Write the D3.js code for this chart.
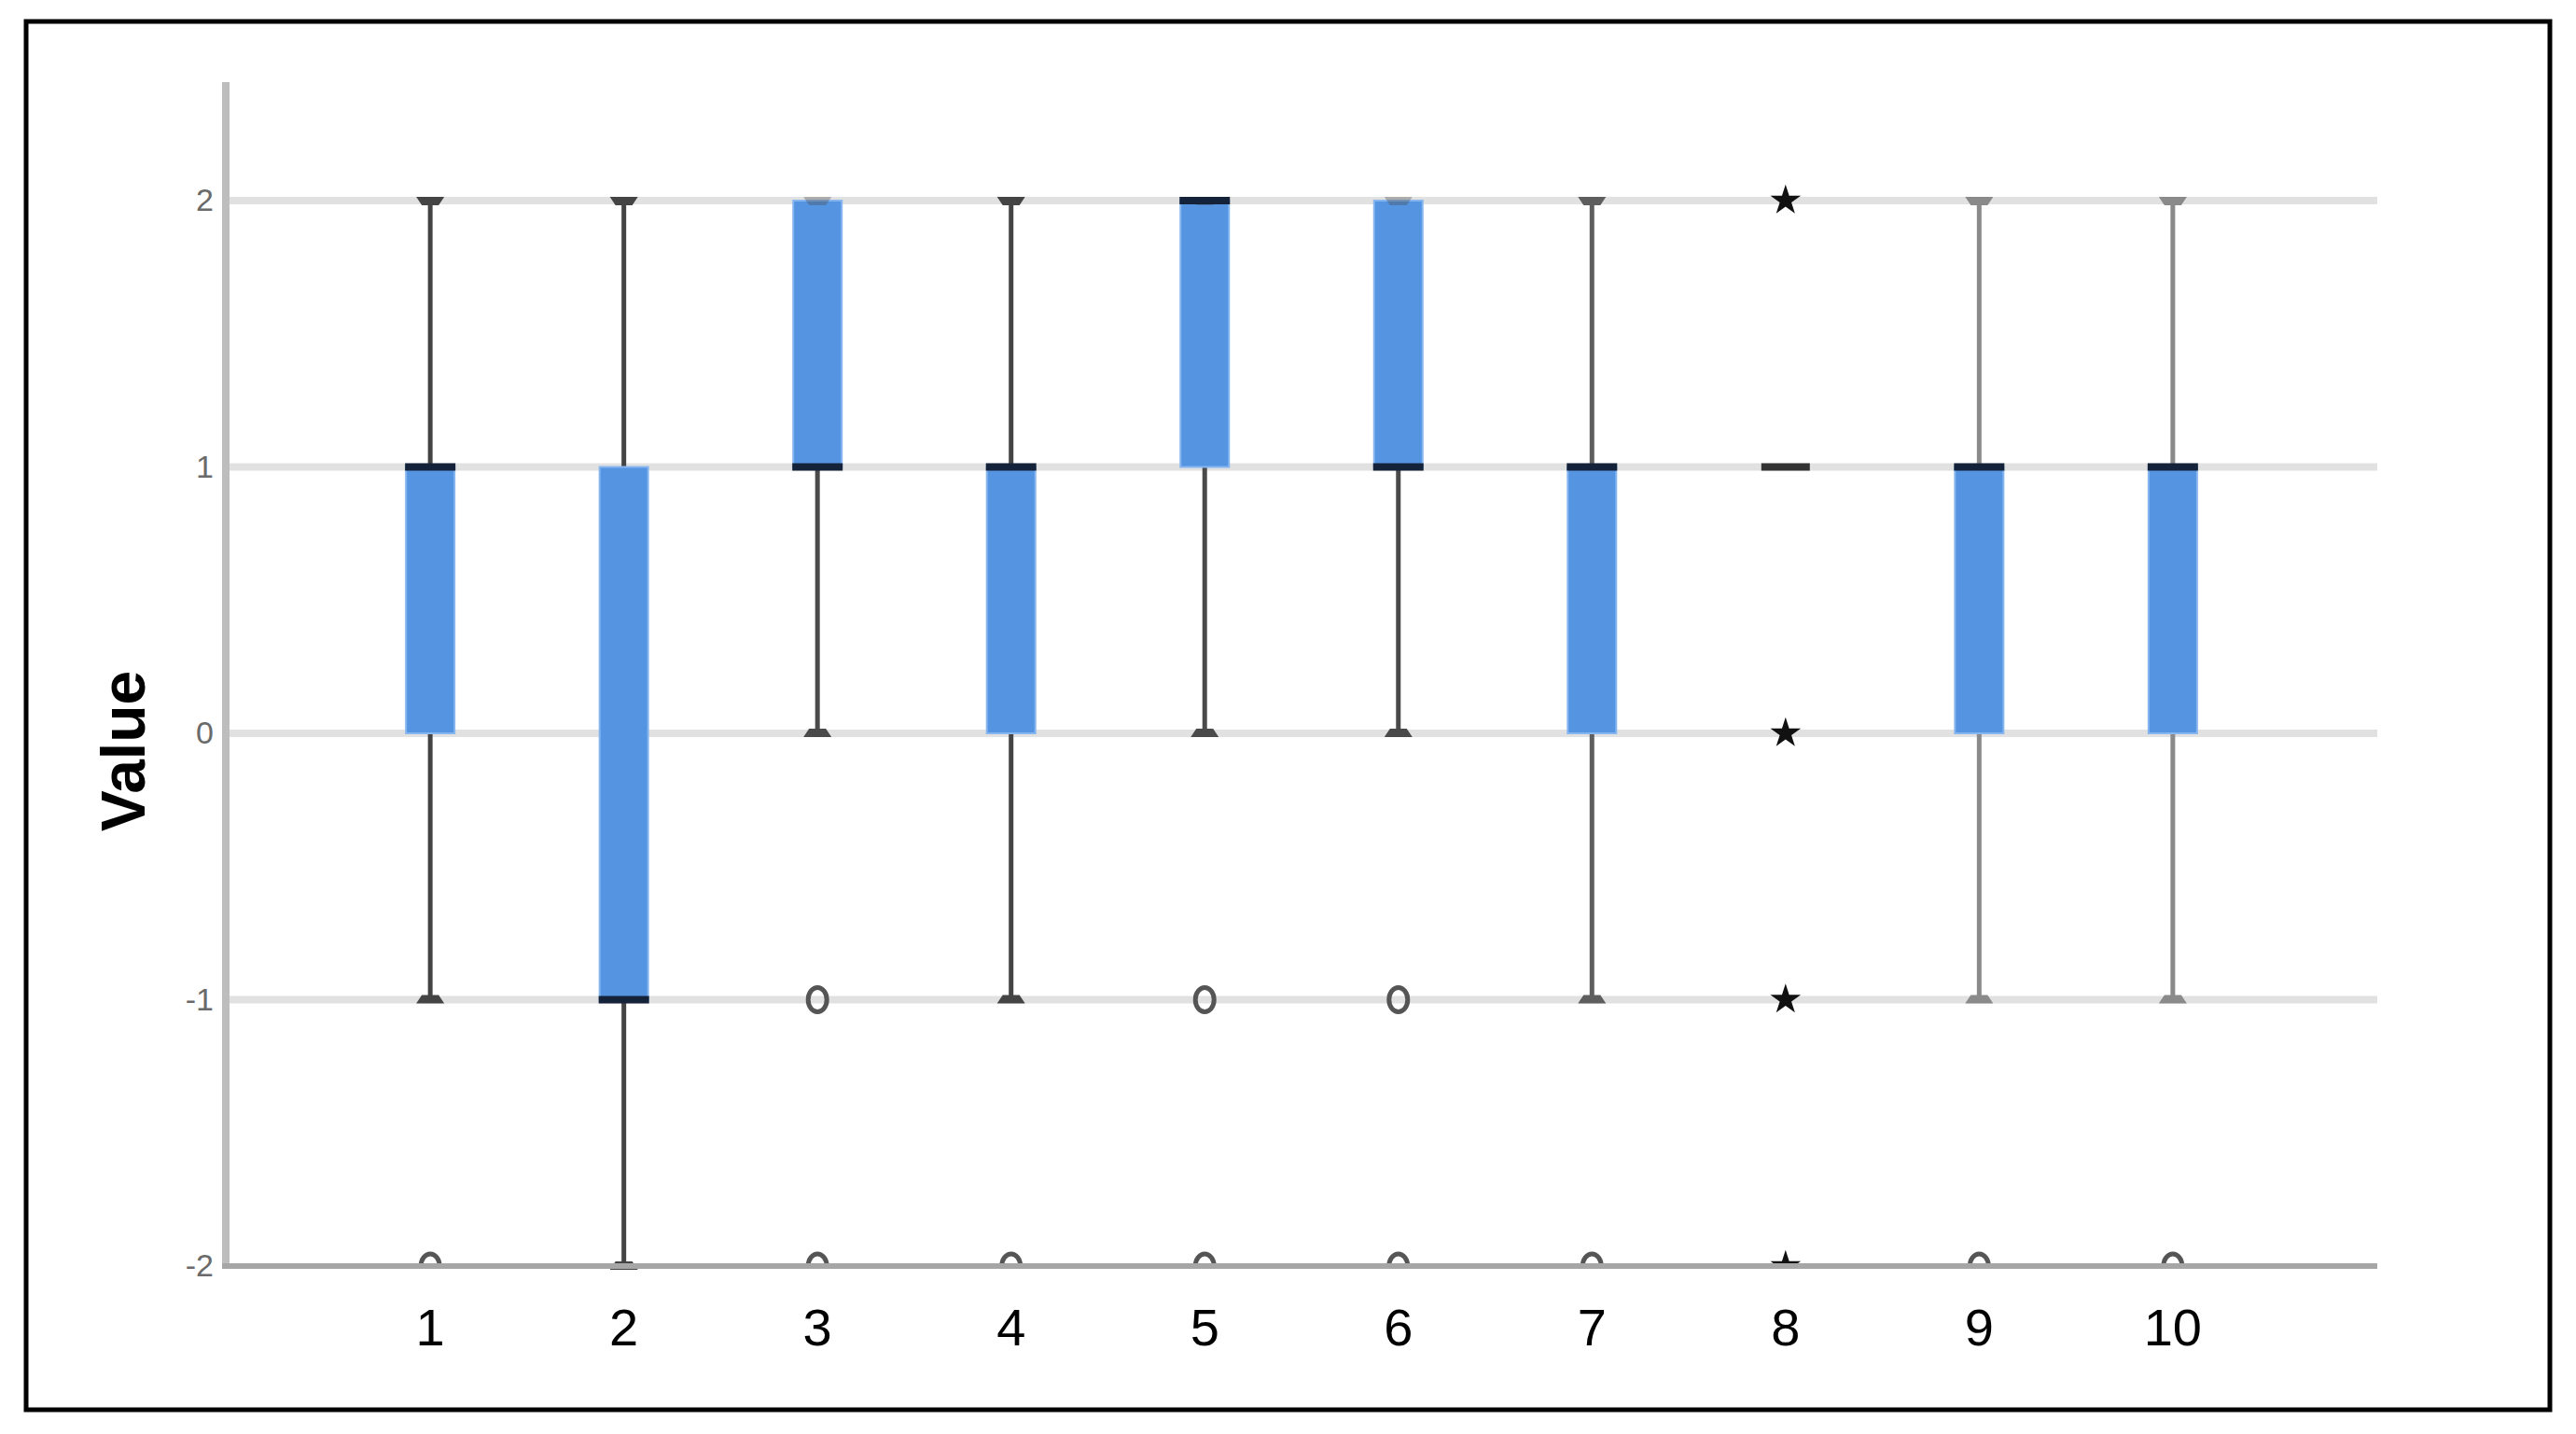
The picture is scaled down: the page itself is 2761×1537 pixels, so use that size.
<!DOCTYPE html>
<html>
<head>
<meta charset="utf-8">
<script src="https://cdn.jsdelivr.net/npm/d3@7"></script>
<style>
  html, body { margin: 0; padding: 0; background: #fff; }
  svg { display: block; }
  text { font-family: "Liberation Sans", Arial, sans-serif; }
</style>
</head>
<body>
<script>
// ---- data ----
const categories   = ['1', '2', '3', '4', '5', '6', '7', '8', '9', '10'];
const q1Values     = [0, -1, 1, 0, 1, 1, 0, 1, 0, 0];
const q3Values     = [1, 1, 2, 1, 2, 2, 1, 1, 1, 1];
const medianValues = [1, -1, 1, 1, 2, 1, 1, 1, 1, 1];
const whiskerLow   = [-1, -2, 0, -1, 0, 0, -1, 1, -1, -1];
const whiskerHigh  = [2, 2, 2, 2, 2, 2, 2, 1, 2, 2];
const outlierValues = [[-2], [], [-1, -2], [-2], [-1, -2], [-1, -2], [-2], [], [-2], [-2]];
const extremeValues = [[], [], [], [], [], [], [], [2, 0, -1, -2], [], []];
const yTickValues  = [2, 1, 0, -1, -2];
const yAxisTitle   = 'Value';

// ---- layout ----
const W = 2761, H = 1537;
const plotLeft = 242, plotRight = 2548, plotTop = 88, plotBottom = 1357;
const whiskerShade = ['#444', '#444', '#4a4a4a', '#444', '#4a4a4a', '#4a4a4a', '#5e5e5e', '#333', '#8a8a8a', '#8a8a8a'];

const svg = d3.select('body').append('svg').attr('width', W).attr('height', H);
svg.append('rect').attr('width', W).attr('height', H).attr('fill', '#fff');

// outer frame
svg.append('rect')
  .attr('x', 28).attr('y', 23).attr('width', 2705).attr('height', 1488)
  .attr('fill', 'none').attr('stroke', '#000').attr('stroke-width', 5);

const x = d3.scalePoint().domain(categories).range([plotLeft, plotRight]).padding(1.056);
const y = d3.scaleLinear().domain([-2, 2]).range([plotBottom, 215]);

const boxW = 52, capW = 30;

svg.append('defs').append('clipPath').attr('id', 'plotClip')
  .append('rect').attr('x', plotLeft).attr('y', 0)
  .attr('width', plotRight - plotLeft).attr('height', plotBottom);

// gridlines
svg.append('g').selectAll('line').data(yTickValues.filter(v => v !== -2)).join('line')
  .attr('x1', plotLeft).attr('x2', plotRight)
  .attr('y1', d => y(d)).attr('y2', d => y(d))
  .attr('stroke', '#e1e1e1').attr('stroke-width', 8);

// y axis (labels)
const yAxis = svg.append('g').attr('transform', `translate(${plotLeft},0)`)
  .call(d3.axisLeft(y).tickValues(yTickValues).tickSize(0).tickPadding(13).tickFormat(d => String(d)));
yAxis.select('.domain').remove();
yAxis.selectAll('text').attr('font-size', 34).attr('fill', '#6a6a6a')
  .style('font-family', '"Liberation Sans Narrow", "Liberation Sans", Arial, sans-serif');

// axis lines
svg.append('line').attr('x1', plotLeft).attr('x2', plotLeft)
  .attr('y1', plotTop).attr('y2', plotBottom + 3)
  .attr('stroke', '#bdbdbd').attr('stroke-width', 8);

const g = svg.append('g');
const idx = categories.map((c, i) => i);

// whiskers
g.selectAll('.wl').data(idx.filter(i => whiskerLow[i] < q1Values[i])).join('line')
  .attr('x1', i => x(categories[i])).attr('x2', i => x(categories[i]))
  .attr('y1', i => y(q1Values[i])).attr('y2', i => y(whiskerLow[i]))
  .attr('stroke', i => whiskerShade[i]).attr('stroke-width', 5);
g.selectAll('.wh').data(idx.filter(i => whiskerHigh[i] > q3Values[i])).join('line')
  .attr('x1', i => x(categories[i])).attr('x2', i => x(categories[i]))
  .attr('y1', i => y(q3Values[i])).attr('y2', i => y(whiskerHigh[i]))
  .attr('stroke', i => whiskerShade[i]).attr('stroke-width', 5);

// caps (trapezoid)
function capPath(cx, cy, top) {
  const s = top ? 1 : -1;
  return `M${cx - capW / 2},${cy - s * 4}L${cx + capW / 2},${cy - s * 4}L${cx + capW / 2 - 6},${cy + s * 5}L${cx - capW / 2 + 6},${cy + s * 5}Z`;
}
const caps = [];
idx.forEach(i => {
  if (whiskerHigh[i] !== whiskerLow[i]) {
    caps.push({ i, v: whiskerHigh[i], top: true, onBox: whiskerHigh[i] === q3Values[i] });
    caps.push({ i, v: whiskerLow[i], top: false, onBox: whiskerLow[i] === q1Values[i] });
  }
});

// boxes
g.selectAll('.box').data(idx.filter(i => q3Values[i] > q1Values[i])).join('rect')
  .attr('x', i => x(categories[i]) - boxW / 2)
  .attr('y', i => y(q3Values[i]))
  .attr('width', boxW)
  .attr('height', i => y(q1Values[i]) - y(q3Values[i]))
  .attr('fill', '#5594e1')
  .attr('stroke', '#86b6ef').attr('stroke-width', 2);

g.selectAll('.cap').data(caps).join('path')
  .attr('d', d => capPath(x(categories[d.i]), y(d.v), d.top))
  .attr('fill', d => whiskerShade[d.i])
  .attr('opacity', d => d.onBox ? 0.35 : 1);

// medians
g.selectAll('.med').data(idx).join('rect')
  .attr('x', i => x(categories[i]) - boxW / 2 - (q3Values[i] > q1Values[i] ? 1 : 0))
  .attr('y', i => y(medianValues[i]) - 4)
  .attr('width', i => boxW + (q3Values[i] > q1Values[i] ? 2 : 0))
  .attr('height', 8)
  .attr('fill', i => q3Values[i] > q1Values[i] ? '#15233a' : '#333');

// outliers (circles) and extremes (stars), clipped at the x axis
const marks = svg.append('g').attr('clip-path', 'url(#plotClip)');
const outPts = [];
outlierValues.forEach((arr, i) => arr.forEach(v => outPts.push({ i, v })));
marks.selectAll('ellipse').data(outPts).join('ellipse')
  .attr('cx', d => x(categories[d.i])).attr('cy', d => y(d.v))
  .attr('rx', 10).attr('ry', 13)
  .attr('fill', 'none').attr('stroke', '#555').attr('stroke-width', 5);

const extPts = [];
extremeValues.forEach((arr, i) => arr.forEach(v => extPts.push({ i, v })));
marks.selectAll('.star').data(extPts).join('path')
  .attr('transform', d => `translate(${x(categories[d.i])},${y(d.v)})`)
  .attr('d', d3.symbol().type(d3.symbolStar).size(330))
  .attr('fill', '#111');

// x axis line
svg.append('line').attr('x1', plotLeft - 4).attr('x2', plotRight)
  .attr('y1', plotBottom).attr('y2', plotBottom)
  .attr('stroke', '#a6a6a6').attr('stroke-width', 6);

// x tick labels
svg.append('g').selectAll('text').data(categories).join('text')
  .attr('x', d => x(d)).attr('y', 1442)
  .attr('text-anchor', 'middle')
  .attr('font-size', 56).attr('fill', '#000')
  .text(d => d);

// y axis title
svg.append('text')
  .attr('transform', 'translate(155,805) rotate(-90)')
  .attr('text-anchor', 'middle')
  .attr('font-size', 66).attr('font-weight', 'bold').attr('fill', '#000')
  .text(yAxisTitle);
</script>
</body>
</html>
